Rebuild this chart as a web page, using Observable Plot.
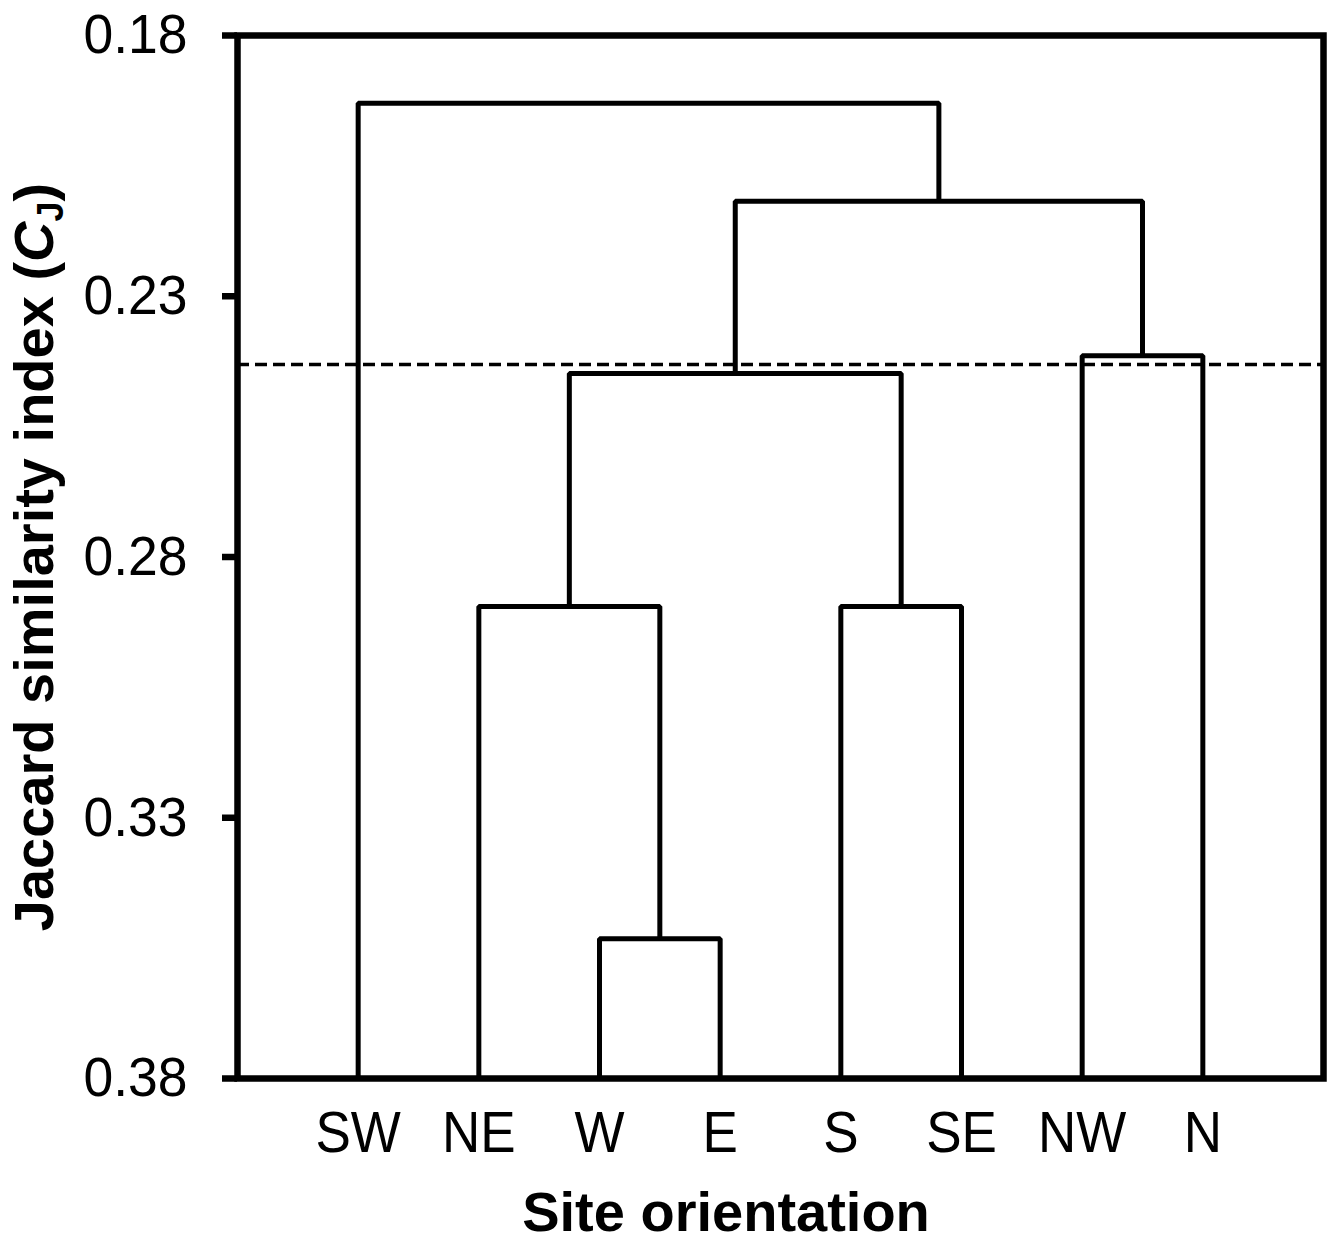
<!DOCTYPE html>
<html><head><meta charset="utf-8">
<script src="https://cdn.jsdelivr.net/npm/d3@7"></script>
<script src="https://cdn.jsdelivr.net/npm/@observablehq/plot@0.6"></script>
<style>
html,body{margin:0;padding:0;background:#fff;}
</style>
</head><body><div id="chart"></div>
<script>
const leaves = ["SW","NE","W","E","S","SE","NW","N"];
// merge steps: indices refer to leaves (0-7) then merged clusters (8+)
const mergePairs = [[2,3],[1,8],[4,5],[9,10],[6,7],[11,12],[0,13]];
const mergeHeights = [0.3532, 0.2895, 0.2895, 0.2448, 0.2414, 0.2118, 0.1930];
const cutoff = 0.2431;
const yTicks = [0.18, 0.23, 0.28, 0.33, 0.38];
const yDomain = [0.18, 0.38];

const nodeX = leaves.map((_, i) => i + 1);
const nodeY = leaves.map(() => yDomain[1]);
const paths = [];
mergePairs.forEach(([a, b], k) => {
  const h = mergeHeights[k];
  const id = leaves.length + k;
  paths.push({id, x: nodeX[a], y: nodeY[a]}, {id, x: nodeX[a], y: h},
             {id, x: nodeX[b], y: h}, {id, x: nodeX[b], y: nodeY[b]});
  nodeX[id] = (nodeX[a] + nodeX[b]) / 2;
  nodeY[id] = h;
});

const plot = Plot.plot({
  width: 1331, height: 1237,
  marginLeft: 237, marginRight: 8, marginTop: 35, marginBottom: 159,
  style: {fontFamily: "'Liberation Sans', Arial, sans-serif", background: "#fff", color: "#000"},
  x: {domain: [0, leaves.length + 1], axis: null},
  y: {domain: yDomain, reverse: true, axis: null},
  marks: [
    Plot.ruleY([cutoff], {stroke: "#000", strokeWidth: 3.5, strokeDasharray: "12,6"}),
    Plot.line(paths, {x: "x", y: "y", z: "id", stroke: "#000", strokeWidth: 5, strokeLinejoin: "miter", strokeLinecap: "butt"}),
    Plot.frame({stroke: "#000", strokeWidth: 6.5}),
    Plot.axisY(yTicks, {tickSize: 15, tickPadding: 35, strokeWidth: 6.5, fontSize: 56, tickFormat: d => d.toFixed(2), label: null}),
    Plot.axisX(leaves.map((_, i) => i + 1), {tickSize: 0, tickPadding: 33, fontSize: 57, tickFormat: d => leaves[d - 1], label: null})
  ]
});
document.getElementById("chart").appendChild(plot);

const svg = d3.select(plot);
svg.selectAll('g[aria-label="y-axis tick label"] text')
  .attr("transform", function() { return (this.getAttribute("transform") || "") + " scale(0.955,1)"; });
svg.selectAll('g[aria-label="x-axis tick label"] text')
  .attr("transform", function() { return (this.getAttribute("transform") || "") + " scale(0.93,1)"; });

svg.append("text")
  .attr("x", 726).attr("y", 1231)
  .attr("text-anchor", "middle").attr("font-weight", "bold").attr("font-size", 56).attr("fill", "#000")
  .text("Site orientation");

const yl = svg.append("text")
  .attr("transform", "translate(53,557) rotate(-90)")
  .attr("text-anchor", "middle").attr("font-weight", "bold").attr("font-size", 56).attr("fill", "#000");
yl.append("tspan").text("Jaccard similarity index (");
yl.append("tspan").attr("font-style", "italic").text("C");
yl.append("tspan").attr("font-size", 36).attr("dy", 10).text("J");
yl.append("tspan").attr("dy", -10).text(")");
</script>
</body></html>
